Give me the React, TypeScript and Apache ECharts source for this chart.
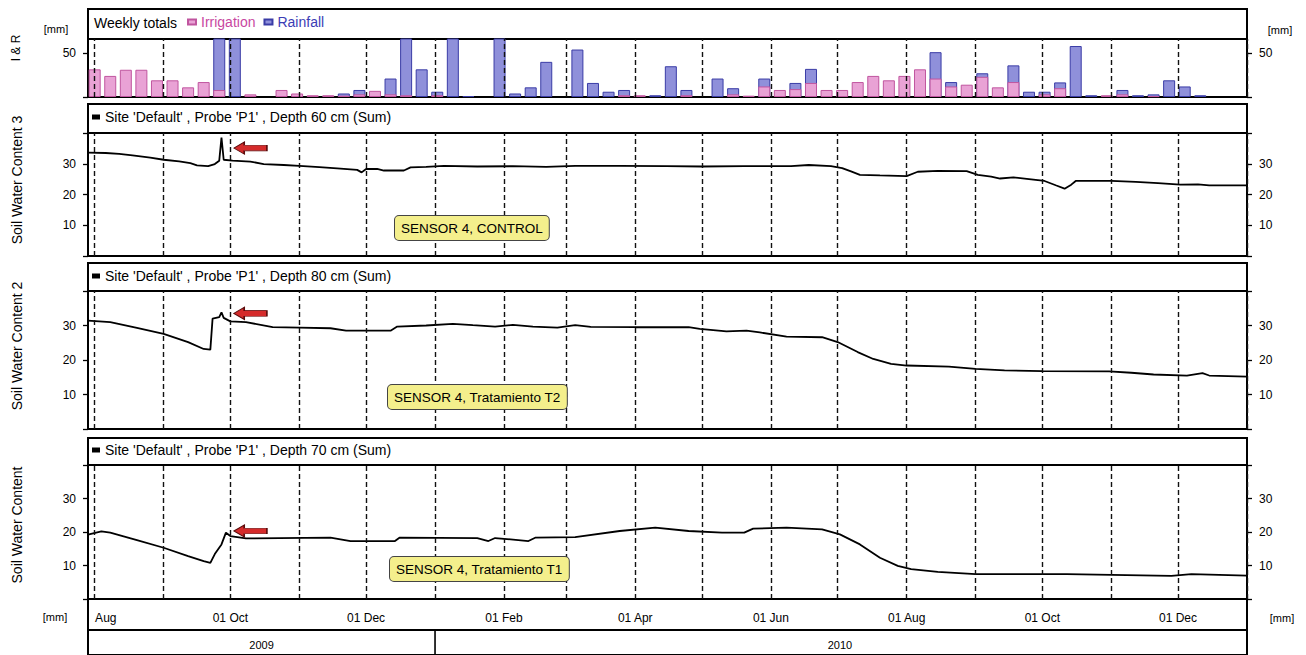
import React, { useEffect, useRef } from "react";
import * as echarts from "echarts";

const AXIS_MIN = "2009-07-29";
const AXIS_MAX = "2011-01-01";
const FONT = "Liberation Sans, Arial, sans-serif";

const monthStarts = [
  "2009-08-01", "2009-09-01", "2009-10-01", "2009-11-01", "2009-12-01",
  "2010-01-01", "2010-02-01", "2010-03-01", "2010-04-01", "2010-05-01",
  "2010-06-01", "2010-07-01", "2010-08-01", "2010-09-01", "2010-10-01",
  "2010-11-01", "2010-12-01", "2011-01-01",
];

const monthLabelDates = [
  "2009-08-06", "2009-10-01", "2009-12-01", "2010-02-01", "2010-04-01",
  "2010-06-01", "2010-08-01", "2010-10-01", "2010-12-01",
];
const monthLabelTexts = ["Aug", "01 Oct", "01 Dec", "01 Feb", "01 Apr", "01 Jun", "01 Aug", "01 Oct", "01 Dec"];

const yearLabelDates = ["2009-10-15", "2010-07-02"];
const yearLabelTexts = ["2009", "2010"];
const yearDivider = "2010-01-01";

// weekly totals, first week centred on 1 Aug 2009
const firstWeek = [2009, 7, 1];
const irrigation = [
  31.5, 24, 31, 31, 19, 19, 11, 17, 8, 0,
  3, 0, 8, 4, 2, 2, 1.5, 3, 7, 3,
  2, 0, 2, 0, 0, 0, 0, 0, 0, 0,
  0, 0, 0, 0, 2, 2, 0, 0, 2, 0,
  0, 3, 1.5, 12, 8, 9, 16, 8, 8, 17,
  24, 19, 24, 31.5, 21, 12, 14, 23, 11, 17,
  0, 3, 10, 0, 0, 2, 3, 0, 1, 0,
  0, 0,
];
const rainfall = [
  0, 0, 0, 0, 0, 0, 0, 0, 75, 80,
  0, 0, 0, 0, 0, 0, 2.5, 5, 0, 18,
  80, 31.5, 4, 80, 1, 0, 80, 4, 11, 40,
  0, 54, 16, 6, 6, 0, 2, 35, 6, 0,
  21, 7, 0, 9, 0, 7, 16, 0, 0, 0,
  0, 0, 0, 0, 30, 5, 0, 4, 0, 19,
  6, 3, 6.6, 58, 2, 0, 5, 2, 2, 19,
  12, 2,
];

const swc3Name = "Site 'Default' , Probe 'P1' , Depth 60 cm (Sum)";
const swc2Name = "Site 'Default' , Probe 'P1' , Depth 80 cm (Sum)";
const swc1Name = "Site 'Default' , Probe 'P1' , Depth 70 cm (Sum)";

const swc3: [string, number][] = [
  ["2009-07-29", 33.6], ["2009-08-06", 33.5], ["2009-08-12", 33.2], ["2009-08-18", 32.7],
  ["2009-08-26", 32.0], ["2009-09-01", 31.3], ["2009-09-08", 30.8], ["2009-09-13", 30.2],
  ["2009-09-16", 29.5], ["2009-09-21", 29.2], ["2009-09-24", 29.9], ["2009-09-26", 31.0],
  ["2009-09-27", 38.5], ["2009-09-28", 31.3], ["2009-10-02", 31.0], ["2009-10-10", 30.7],
  ["2009-10-16", 29.9], ["2009-10-25", 29.6], ["2009-11-01", 29.3], ["2009-11-10", 28.9],
  ["2009-11-18", 28.5], ["2009-11-27", 28.0], ["2009-11-29", 27.2], ["2009-12-01", 28.3],
  ["2009-12-06", 28.3], ["2009-12-09", 27.8], ["2009-12-18", 27.8], ["2009-12-21", 28.8],
  ["2009-12-28", 29.0], ["2010-01-05", 29.3], ["2010-01-20", 29.1], ["2010-02-05", 29.2],
  ["2010-02-20", 29.0], ["2010-03-05", 29.3], ["2010-03-25", 29.3], ["2010-04-15", 29.2],
  ["2010-05-01", 29.1], ["2010-05-20", 29.2], ["2010-06-10", 29.2], ["2010-06-18", 29.6],
  ["2010-06-28", 29.2], ["2010-07-03", 28.6], ["2010-07-07", 27.5], ["2010-07-11", 26.4],
  ["2010-07-20", 26.2], ["2010-08-01", 26.0], ["2010-08-06", 27.4], ["2010-08-15", 27.7],
  ["2010-08-28", 27.6], ["2010-09-02", 26.4], ["2010-09-08", 25.8], ["2010-09-12", 25.2],
  ["2010-09-18", 25.6], ["2010-09-25", 25.0], ["2010-10-02", 24.4], ["2010-10-07", 23.0],
  ["2010-10-11", 21.9], ["2010-10-14", 23.2], ["2010-10-16", 24.4], ["2010-11-01", 24.4],
  ["2010-11-12", 24.1], ["2010-11-22", 23.7], ["2010-12-02", 23.2], ["2010-12-10", 23.3],
  ["2010-12-15", 23.0], ["2011-01-01", 23.0],
];

const swc2: [string, number][] = [
  ["2009-07-29", 31.4], ["2009-08-08", 31.0], ["2009-08-20", 29.3], ["2009-09-01", 27.6],
  ["2009-09-12", 25.2], ["2009-09-19", 23.2], ["2009-09-22", 23.0], ["2009-09-23", 32.0],
  ["2009-09-26", 32.4], ["2009-09-27", 33.8], ["2009-09-28", 32.2], ["2009-10-01", 31.2],
  ["2009-10-08", 31.0], ["2009-10-20", 29.5], ["2009-11-01", 29.4], ["2009-11-15", 29.2],
  ["2009-11-22", 28.5], ["2009-12-12", 28.5], ["2009-12-15", 29.7], ["2009-12-28", 30.0],
  ["2010-01-09", 30.5], ["2010-01-18", 30.1], ["2010-01-28", 29.7], ["2010-02-05", 30.2],
  ["2010-02-14", 29.7], ["2010-02-25", 29.4], ["2010-03-05", 30.1], ["2010-03-12", 29.6],
  ["2010-04-01", 29.5], ["2010-04-25", 29.5], ["2010-04-30", 29.0], ["2010-05-12", 28.3],
  ["2010-05-21", 28.5], ["2010-05-27", 28.0], ["2010-06-08", 26.8], ["2010-06-24", 26.6],
  ["2010-07-01", 25.2], ["2010-07-10", 22.3], ["2010-07-17", 20.3], ["2010-07-25", 18.9],
  ["2010-08-01", 18.4], ["2010-08-20", 18.1], ["2010-09-01", 17.4], ["2010-09-14", 17.0],
  ["2010-10-01", 16.8], ["2010-10-31", 16.7], ["2010-11-10", 16.3], ["2010-11-20", 15.8],
  ["2010-12-05", 15.5], ["2010-12-12", 16.2], ["2010-12-15", 15.5], ["2011-01-01", 15.2],
];

const swc1: [string, number][] = [
  ["2009-07-29", 19.2], ["2009-08-04", 20.2], ["2009-08-08", 19.8], ["2009-08-20", 17.6],
  ["2009-09-01", 15.3], ["2009-09-12", 12.8], ["2009-09-19", 11.3], ["2009-09-22", 10.8],
  ["2009-09-24", 13.4], ["2009-09-27", 16.3], ["2009-09-29", 19.8], ["2009-10-01", 18.8],
  ["2009-10-08", 18.1], ["2009-11-15", 18.3], ["2009-11-24", 17.3], ["2009-12-14", 17.3],
  ["2009-12-16", 18.3], ["2010-01-20", 18.2], ["2010-01-25", 17.3], ["2010-01-28", 18.2],
  ["2010-02-12", 17.3], ["2010-02-15", 18.3], ["2010-03-05", 18.5], ["2010-03-25", 20.3],
  ["2010-04-10", 21.3], ["2010-04-25", 20.3], ["2010-05-10", 19.8], ["2010-05-20", 19.8],
  ["2010-05-24", 21.0], ["2010-06-08", 21.3], ["2010-06-24", 20.8], ["2010-07-02", 19.3],
  ["2010-07-11", 16.3], ["2010-07-20", 12.3], ["2010-07-28", 9.9], ["2010-08-03", 8.9],
  ["2010-08-15", 8.1], ["2010-09-01", 7.4], ["2010-10-12", 7.4], ["2010-11-28", 6.9],
  ["2010-12-07", 7.4], ["2011-01-01", 7.0],
];

// arrow annotations (centre of arrow)
const arrowCoords: [string, number][] = [
  ["2009-10-10", 35.1],
  ["2009-10-10", 33.5],
  ["2009-10-10", 20.3],
];

const sensorLabels = ["SENSOR 4, CONTROL", "SENSOR 4, Tratamiento T2", "SENSOR 4, Tratamiento T1"];
const panelTitles = ["Soil Water Content 3", "Soil Water Content 2", "Soil Water Content"];

const ARROW_PATH = "path://M0,6 L10,0 L10,3.2 L32,3.2 L32,8.8 L10,8.8 L10,12 Z";

const ts = (d: string) => +echarts.time.parse(d);

export default function App() {
  const ref = useRef<HTMLDivElement>(null);

  useEffect(() => {
    if (!ref.current) return;
    const chart = echarts.init(ref.current, undefined, { renderer: "svg" });

    const weekDates = irrigation.map((_, i) => +new Date(firstWeek[0], firstWeek[1], firstWeek[2] + 7 * i));
    const monthLabelMap = new Map<number, string>();
    monthLabelDates.forEach((d, i) => monthLabelMap.set(ts(d), monthLabelTexts[i]));
    const yearLabelMap = new Map<number, string>();
    yearLabelDates.forEach((d, i) => yearLabelMap.set(ts(d), yearLabelTexts[i]));

    const grids = [
      { top: 39, height: 58 },
      { top: 133, height: 123 },
      { top: 291, height: 138 },
      { top: 465, height: 134 },
      { top: 599, height: 31 },
      { top: 630, height: 28 },
    ].map((g) => ({
      left: 88,
      width: 1159,
      top: g.top,
      height: g.height,
      show: true,
      borderColor: "#000",
      borderWidth: 2,
      backgroundColor: "transparent",
      containLabel: false,
    }));

    const baseX = (gridIndex: number) => ({
      type: "value",
      gridIndex,
      min: ts(AXIS_MIN),
      max: ts(AXIS_MAX),
      axisLine: { show: false },
      axisTick: { show: false },
      axisLabel: { show: false },
      splitLine: { show: false },
    });

    const xAxis: any[] = [0, 1, 2, 3, 4, 5].map(baseX);
    xAxis[3] = {
      ...xAxis[3],
      axisLabel: {
        show: true,
        customValues: monthLabelDates.map(ts),
        formatter: (v: number) => monthLabelMap.get(v) ?? "",
        margin: 13,
        fontSize: 12,
        color: "#000",
        fontFamily: FONT,
      },
    };
    xAxis[5] = {
      ...xAxis[5],
      axisLabel: {
        show: true,
        inside: true,
        customValues: yearLabelDates.map(ts),
        formatter: (v: number) => yearLabelMap.get(v) ?? "",
        margin: 5,
        fontSize: 11,
        color: "#000",
        fontFamily: FONT,
      },
    };

    const tickStyle = { show: true, inside: false, length: 5, lineStyle: { color: "#000", width: 1.3 } };
    const labelStyle = { fontSize: 12, color: "#000", fontFamily: FONT, margin: 12 };

    const swcY = (gridIndex: number, position: string) => ({
      type: "value",
      gridIndex,
      position,
      min: 0,
      max: 40,
      interval: 10,
      axisLine: { show: false },
      axisTick: tickStyle,
      splitLine: { show: false },
      axisLabel: {
        ...labelStyle,
        formatter: (v: number) => (v === 0 || v === 40 ? "" : String(v)),
      },
    });
    const barY = (position: string) => ({
      type: "value",
      gridIndex: 0,
      position,
      min: 0,
      max: 66,
      axisLine: { show: false },
      axisTick: { ...tickStyle, customValues: [0, 50] },
      splitLine: { show: false },
      axisLabel: { ...labelStyle, customValues: [50] },
    });
    const hiddenY = (gridIndex: number) => ({ type: "value", gridIndex, min: 0, max: 1, show: false });

    const yAxis = [
      barY("left"), barY("right"),
      swcY(1, "left"), swcY(1, "right"),
      swcY(2, "left"), swcY(2, "right"),
      swcY(3, "left"), swcY(3, "right"),
      hiddenY(4), hiddenY(5),
    ];

    const monthMarkLine = {
      silent: true,
      symbol: ["none", "none"],
      label: { show: false },
      lineStyle: { type: [5, 3], color: "#111", width: 1.4 },
      data: monthStarts.map((d) => ({ xAxis: ts(d) })),
      animation: false,
    };

    const arrowMark = (i: number) => ({
      silent: true,
      symbol: ARROW_PATH,
      symbolSize: [33, 12],
      itemStyle: { color: "#D52B2B", borderColor: "#5a0c0c", borderWidth: 1 },
      label: { show: false },
      data: [{ coord: [ts(arrowCoords[i][0]), arrowCoords[i][1]] }],
      animation: false,
    });

    const lineSeries = (name: string, data: [string, number][], g: number, yIdx: number, i: number) => ({
      name,
      type: "line",
      xAxisIndex: g,
      yAxisIndex: yIdx,
      data: data.map(([d, v]) => [ts(d), v]),
      showSymbol: false,
      symbol: "none",
      itemStyle: { color: "#000" },
      lineStyle: { color: "#000", width: 1.8 },
      markLine: monthMarkLine,
      markPoint: arrowMark(i),
      z: 3,
    });

    // Rainfall sits on top of irrigation: the blue bar runs from 0 to the weekly
    // total and the pink irrigation bar is drawn over its lower part.
    const series: any[] = [
      {
        name: "Rainfall",
        type: "bar",
        xAxisIndex: 0,
        yAxisIndex: 0,
        barWidth: 12,
        barGap: "-100%",
        data: weekDates.map((d, i) => [d, rainfall[i] > 0 ? irrigation[i] + rainfall[i] : null]),
        itemStyle: { color: "#8F90DA", borderColor: "#3A3CA6", borderWidth: 1 },
        z: 2,
      },
      {
        name: "Irrigation",
        type: "bar",
        xAxisIndex: 0,
        yAxisIndex: 0,
        barWidth: 12,
        barGap: "-100%",
        data: weekDates.map((d, i) => [d, irrigation[i] > 0 ? irrigation[i] : null]),
        itemStyle: { color: "#E9A2D5", borderColor: "#C0559F", borderWidth: 1 },
        markLine: monthMarkLine,
        z: 3,
      },
      lineSeries(swc3Name, swc3, 1, 2, 0),
      lineSeries(swc2Name, swc2, 2, 4, 1),
      lineSeries(swc1Name, swc1, 3, 6, 2),
      {
        name: "year divider",
        type: "line",
        xAxisIndex: 5,
        yAxisIndex: 9,
        data: [[ts(yearDivider), 0], [ts(yearDivider), 1]],
        showSymbol: false,
        symbol: "none",
        lineStyle: { color: "#000", width: 1.6 },
        silent: true,
      },
    ];

    const legendBase = {
      orient: "horizontal",
      icon: "rect",
      itemWidth: 8,
      itemHeight: 5,
      itemGap: 8,
      padding: 0,
      selectedMode: false,
      textStyle: { fontSize: 14, fontFamily: FONT, color: "#000" },
    };
    const legend = [
      {
        ...legendBase,
        left: 187,
        top: 15,
        data: [
          { name: "Irrigation", textStyle: { color: "#C8479F" } },
          { name: "Rainfall", textStyle: { color: "#3B3DB5" } },
        ],
      },
      { ...legendBase, left: 92, top: 110, data: [swc3Name] },
      { ...legendBase, left: 92, top: 269, data: [swc2Name] },
      { ...legendBase, left: 92, top: 443, data: [swc1Name] },
    ];

    const headerRect = (y: number, h: number) => ({
      type: "rect",
      z: 0,
      shape: { x: 88, y, width: 1159, height: h },
      style: { fill: "#fff", stroke: "#000", lineWidth: 2 },
    });
    const txt = (text: string, x: number, y: number, extra: any = {}) => ({
      type: "text",
      z: 50,
      x,
      y,
      style: {
        text,
        fontSize: 11,
        fontFamily: FONT,
        fill: "#000",
        align: "center",
        verticalAlign: "middle",
        ...extra,
      },
    });
    const rotTxt = (text: string, x: number, y: number, size: number) => ({
      type: "text",
      z: 50,
      x,
      y,
      rotation: Math.PI / 2,
      style: { text, fontSize: size, fontFamily: FONT, fill: "#000", align: "center", verticalAlign: "middle" },
    });
    const sensorBox = (text: string, x: number, y: number) => ({
      type: "text",
      z: 60,
      x,
      y,
      style: {
        text,
        fontSize: 13.5,
        fontFamily: FONT,
        fill: "#000",
        align: "left",
        verticalAlign: "top",
        backgroundColor: "#F4EF8C",
        borderColor: "#444",
        borderWidth: 1,
        borderRadius: 4,
        padding: [5, 6, 5, 6],
      },
    });

    const graphic = [
      headerRect(9, 30),
      headerRect(104, 29),
      headerRect(263, 28),
      headerRect(438, 27),
      txt("Weekly totals", 94, 23, { fontSize: 14, align: "left" }),
      txt("[mm]", 56, 29),
      txt("[mm]", 1280, 30),
      txt("[mm]", 55, 617),
      txt("[mm]", 1282, 618),
      rotTxt("I & R", 16, 48, 12),
      rotTxt(panelTitles[0], 17, 180, 14),
      rotTxt(panelTitles[1], 17, 346, 14),
      rotTxt(panelTitles[2], 17, 525, 14),
      sensorBox(sensorLabels[0], 395, 216),
      sensorBox(sensorLabels[1], 388, 385),
      sensorBox(sensorLabels[2], 390, 557),
    ];

    chart.setOption({
      animation: false,
      backgroundColor: "#fff",
      textStyle: { fontFamily: FONT },
      grid: grids,
      xAxis,
      yAxis,
      legend,
      series,
      graphic,
    });

    return () => chart.dispose();
  }, []);

  return (
    <div
      ref={ref}
      style={{ position: "fixed", left: 0, top: 0, width: 1306, height: 655, background: "#fff" }}
    />
  );
}
